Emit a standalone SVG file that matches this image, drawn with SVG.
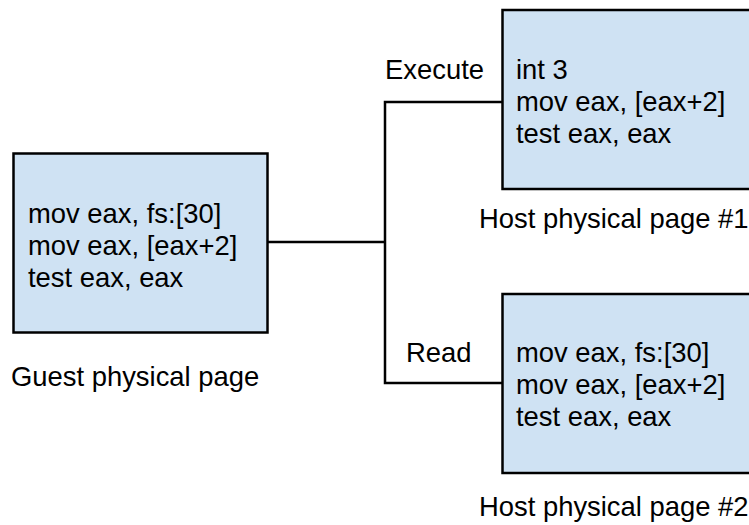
<svg xmlns="http://www.w3.org/2000/svg" width="749" height="525" viewBox="0 0 749 525">
<style>
.box{fill:#cfe2f3;stroke:#000;stroke-width:2.5}
.t{font-family:"Liberation Sans",Arial,sans-serif;font-size:27.4px;fill:#000}
.c{fill:none;stroke:#000;stroke-width:2.5}
</style>
<rect width="749" height="525" fill="#fff"/>
<g id="connectors">
<polyline class="c" points="267,242 385,242"/>
<polyline class="c" points="502,102 385,102 385,383 502,383"/>
<text class="t" x="385" y="79">Execute</text>
<text class="t" x="406" y="362">Read</text>
</g>
<g id="guest">
<rect class="box" x="13.5" y="153.5" width="254" height="179"/>
<text class="t" x="28" y="223">mov eax, fs:[30]</text>
<text class="t" x="28" y="255">mov eax, [eax+2]</text>
<text class="t" x="28" y="287">test eax, eax</text>
<text class="t" x="11" y="386">Guest physical page</text>
</g>
<g id="host1">
<rect class="box" x="502.5" y="10" width="260" height="179"/>
<text class="t" x="516" y="79">int 3</text>
<text class="t" x="516" y="111">mov eax, [eax+2]</text>
<text class="t" x="516" y="143">test eax, eax</text>
<text class="t" x="479" y="228">Host physical page #1</text>
</g>
<g id="host2">
<rect class="box" x="502.5" y="294" width="260" height="179"/>
<text class="t" x="516" y="362">mov eax, fs:[30]</text>
<text class="t" x="516" y="394">mov eax, [eax+2]</text>
<text class="t" x="516" y="426">test eax, eax</text>
<text class="t" x="479" y="516">Host physical page #2</text>
</g>
</svg>
